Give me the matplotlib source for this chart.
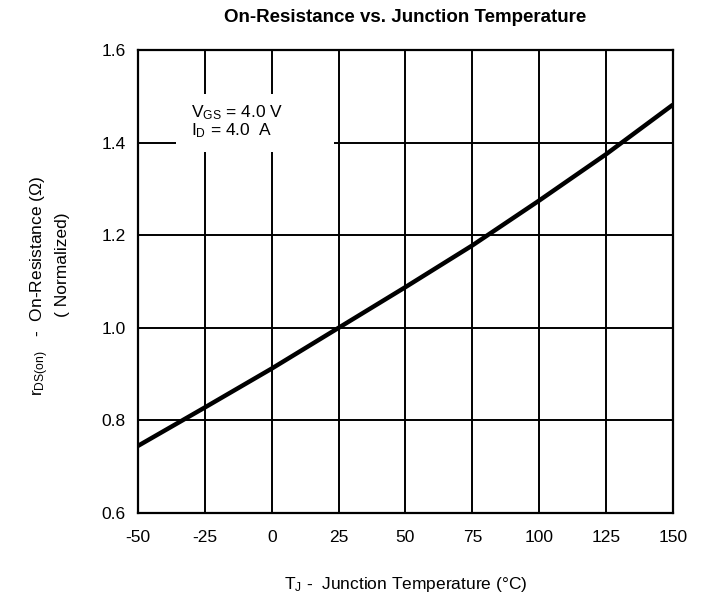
import matplotlib

matplotlib.use("Agg")

import matplotlib.pyplot as plt
from matplotlib.patches import Rectangle

plt.rcParams["font.family"] = ["Liberation Sans", "DejaVu Sans"]
plt.rcParams["mathtext.fontset"] = "custom"
plt.rcParams["mathtext.rm"] = "Liberation Sans"
plt.rcParams["mathtext.it"] = "Liberation Sans:italic"
plt.rcParams["axes.unicode_minus"] = False

temps = [-50, -25, 0, 25, 50, 75, 100, 125, 150]
r_norm = [0.745, 0.828, 0.912, 1.0, 1.088, 1.178, 1.275, 1.375, 1.482]
x_ticks = [-50, -25, 0, 25, 50, 75, 100, 125, 150]
y_ticks = [0.6, 0.8, 1.0, 1.2, 1.4, 1.6]

fig = plt.figure(figsize=(7.05, 6.02), dpi=100)
ax = fig.add_axes([0.1957, 0.1478, 0.7589, 0.7691])

ax.plot(temps, r_norm, color="black", linewidth=3.2, solid_capstyle="butt", zorder=3)

ax.set_xlim(-50, 150)
ax.set_ylim(0.6, 1.6)
ax.set_xticks(x_ticks)
ax.set_yticks(y_ticks)
ax.set_yticklabels([f"{v:.1f}" for v in y_ticks])
ax.tick_params(length=0, labelsize=12.5)
ax.tick_params(axis="x", pad=12)
ax.tick_params(axis="y", pad=9)
ax.grid(True, color="black", linewidth=1.4)
for spine in ax.spines.values():
    spine.set_linewidth(1.6)

# white patch behind the test-condition note
ax.add_patch(Rectangle((0.072, 0.78), 0.295, 0.125, transform=ax.transAxes,
                       facecolor="white", edgecolor="none", zorder=2.5))
ax.text(
    0.1, 0.845,
    "$\\mathregular{V_{GS}}$ = 4.0 V\n$\\mathregular{I_D}$ = 4.0  A",
    transform=ax.transAxes, fontsize=12.5, va="center", ha="left",
    linespacing=0.95, zorder=4,
)

ax.set_title("On-Resistance vs. Junction Temperature", fontsize=13.5,
             fontweight="bold", pad=20)
ax.set_xlabel("$\\mathregular{T_J}$ -  Junction Temperature (°C)", fontsize=12.5,
              labelpad=22)

fig.text(0.057, 0.525, "$\\mathregular{r_{DS(on)}}$   -  On-Resistance (Ω)",
         rotation=90, fontsize=12.5, ha="center", va="center")
fig.text(0.088, 0.56, "( Normalized)", rotation=90, fontsize=12.5,
         ha="center", va="center")

fig.savefig("out.png", dpi=100)
plt.close(fig)
